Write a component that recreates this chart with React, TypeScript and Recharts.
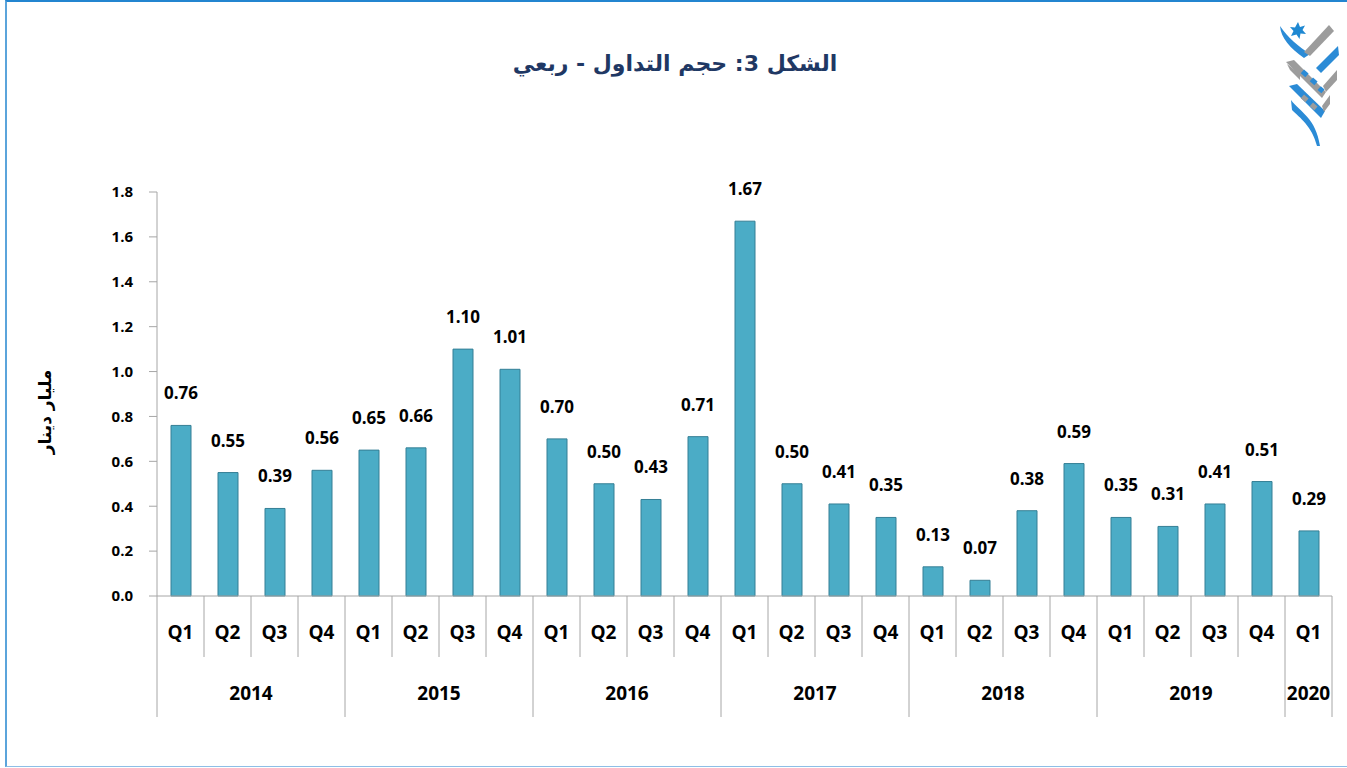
import React from "react";
import { BarChart, Bar, XAxis, YAxis, LabelList } from "recharts";

const years = ["2014", "2015", "2016", "2017", "2018", "2019", "2020"];
const quartersPerYear = [4, 4, 4, 4, 4, 4, 1];
const quarterLabels = ["Q1", "Q2", "Q3", "Q4"];
const values2014 = [0.76, 0.55, 0.39, 0.56];
const values2015 = [0.65, 0.66, 1.1, 1.01];
const values2016 = [0.7, 0.5, 0.43, 0.71];
const values2017 = [1.67, 0.5, 0.41, 0.35];
const values2018 = [0.13, 0.07, 0.38, 0.59];
const values2019 = [0.35, 0.31, 0.41, 0.51];
const values2020 = [0.29];
const yTicks = [0, 0.2, 0.4, 0.6, 0.8, 1.0, 1.2, 1.4, 1.6, 1.8];
const titleText = "الشكل 3: حجم التداول - ربعي";
const yLabelText = "مليار دينار";

const allValues = [values2014, values2015, values2016, values2017, values2018, values2019, values2020];

const data: { key: string; q: string; year: string; qi: number; yi: number; v: number }[] = [];
allValues.forEach((arr, yi) => {
  arr.forEach((v, qi) => {
    data.push({ key: `${years[yi]}-${quarterLabels[qi]}`, q: quarterLabels[qi], year: years[yi], qi, yi, v });
  });
});

const CHART_W = 1347;
const CHART_H = 768;
const MARGIN = { top: 192, right: 15, left: 97, bottom: 50 };
const Y_AXIS_W = 60;
const X_AXIS_H = 122;
const PLOT_W = CHART_W - MARGIN.left - MARGIN.right - Y_AXIS_W;
const BAND = PLOT_W / data.length;

const FONT = "'Open Sans', 'Noto Sans', sans-serif";
const AR_FONT = "'DejaVu Sans', sans-serif";
const AXIS_GRAY = "#A6A6A6";

const QuarterTick = (props: any) => {
  const { x, y, payload, index } = props;
  const d = data[index];
  if (!d) return null;
  const left = x - BAND / 2;
  const isFirst = d.qi === 0;
  const isLast = index === data.length - 1;
  const nInYear = quartersPerYear[d.yi];
  return (
    <g>
      <line x1={left} y1={y} x2={left} y2={y + (isFirst ? 121 : 61)} stroke={AXIS_GRAY} strokeWidth={1} />
      {isLast && (
        <line x1={x + BAND / 2} y1={y} x2={x + BAND / 2} y2={y + 121} stroke={AXIS_GRAY} strokeWidth={1} />
      )}
      <text x={x} y={y + 43} textAnchor="middle" fontFamily={FONT} fontWeight={700} fontSize={19} fill="#000">
        {payload.value}
      </text>
      {isFirst && (
        <text
          x={left + (nInYear * BAND) / 2}
          y={y + 104}
          textAnchor="middle"
          fontFamily={FONT}
          fontWeight={700}
          fontSize={19}
          fill="#000"
        >
          {d.year}
        </text>
      )}
    </g>
  );
};

const BLUE = "#2B8BD6";
const GRAY = "#9C9C9C";

const Logo = () => (
  <svg width={87} height={160} style={{ position: "absolute", left: 1260, top: 0 }}>
    <polygon
      points="38,22 40,27 45,25.5 42.5,30 46,34 40.5,33.5 39.5,39 36.5,34.5 31,36 33.5,31 30,27 35,27.5"
      fill="#1E88D2"
    />
    {/* upper left blue swoosh */}
    <path d="M20,26 C21,38 30,48 44,58 L50,54 C38,46 28,38 20,26 Z" fill={BLUE} />
    {/* upper gray diagonal */}
    <path d="M69,25 L74,31 L50,56 L44,52 Z" fill={GRAY} />
    {/* right upper blue */}
    <path d="M78,46 L79,55 L61,73 L56,68 Z" fill={BLUE} />
    {/* middle gray band */}
    <path d="M26,62 L34,60 L66,92 L62,98 Z" fill={GRAY} />
    <path d="M27,64 L30,70 L40,80 L40,74 Z" fill={GRAY} />
    {/* window dots */}
    <rect x={42} y={71} width={6} height={5} fill={BLUE} transform="rotate(40 45 73)" />
    <rect x={51} y={79} width={6} height={5} fill={BLUE} transform="rotate(40 54 81)" />
    <rect x={59} y={87} width={5} height={5} fill={BLUE} transform="rotate(40 61 89)" />
    {/* right lower gray */}
    <path d="M77,70 L77,80 L66,92 L63,86 Z" fill={GRAY} />
    {/* middle blue band */}
    <path d="M29,86 L37,84 L65,111 L61,118 Z" fill={BLUE} />
    <rect x={42} y={96} width={6} height={5} fill={GRAY} transform="rotate(40 45 98)" />
    <rect x={51} y={104} width={6} height={5} fill={GRAY} transform="rotate(40 54 106)" />
    {/* right lower gray 2 */}
    <path d="M70,95 L70,104 L64,112 L62,106 Z" fill={GRAY} />
    {/* bottom blue tail */}
    <path d="M31,100 C40,112 56,118 60,146 L57,146 C52,126 40,118 32,110 Z" fill={BLUE} />
  </svg>
);

export default function App() {
  return (
    <div style={{ position: "absolute", left: 0, top: 0, width: CHART_W, height: CHART_H, background: "#fff", overflow: "hidden" }}>
      <div
        style={{
          position: "absolute",
          left: 5,
          top: 0,
          width: CHART_W - 5,
          height: CHART_H - 1,
          borderLeft: "2px solid #5BA4DB",
          borderTop: "2px solid #2385D0",
          borderBottom: "1px solid #8EBEE6",
          boxSizing: "border-box",
        }}
      />
      <div
        dir="rtl"
        style={{
          position: "absolute",
          left: 0,
          width: 1350,
          top: 48,
          textAlign: "center",
          fontFamily: AR_FONT,
          fontWeight: 700,
          fontSize: 22,
          color: "#1F3864",
          lineHeight: "32px",
        }}
      >
        {titleText}
      </div>
      <div
        dir="rtl"
        style={{
          position: "absolute",
          left: 45,
          top: 412,
          transform: "translate(-50%, -50%) rotate(-90deg)",
          fontFamily: AR_FONT,
          fontWeight: 700,
          fontSize: 17,
          color: "#000",
          whiteSpace: "nowrap",
        }}
      >
        {yLabelText}
      </div>
      <Logo />
      <div style={{ position: "absolute", left: 0, top: 0 }}>
        <BarChart width={CHART_W} height={CHART_H} data={data} margin={MARGIN}>
          <XAxis
            dataKey="q"
            interval={0}
            tickLine={false}
            tickSize={0}
            tickMargin={0}
            height={X_AXIS_H}
            axisLine={{ stroke: AXIS_GRAY }}
            tick={<QuarterTick />}
          />
          <YAxis
            width={Y_AXIS_W}
            domain={[0, 1.8]}
            ticks={yTicks}
            interval={0}
            tickSize={8}
            tickMargin={16}
            tickLine={{ stroke: AXIS_GRAY }}
            axisLine={{ stroke: AXIS_GRAY }}
            tickFormatter={(v: number) => v.toFixed(1)}
            tick={{ fontFamily: FONT, fontWeight: 700, fontSize: 15, fill: "#000" }}
          />
          <Bar dataKey="v" fill="#4BACC6" stroke="#357F95" strokeWidth={1} barSize={20} isAnimationActive={false}>
            <LabelList
              dataKey="v"
              position="top"
              offset={26}
              formatter={(v: any) => Number(v).toFixed(2)}
              style={{ fontFamily: FONT, fontWeight: 700, fontSize: 17, fill: "#000" }}
            />
          </Bar>
        </BarChart>
      </div>
    </div>
  );
}
